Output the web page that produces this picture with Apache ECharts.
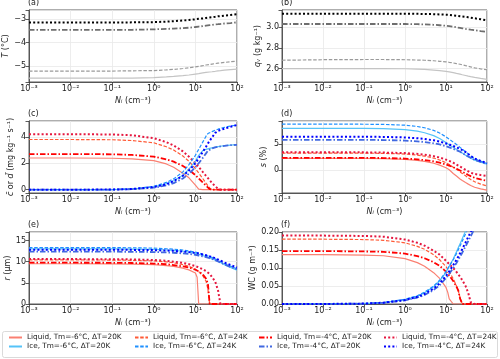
<!DOCTYPE html>
<html>
<head>
<meta charset="utf-8">
<script src="https://cdn.jsdelivr.net/npm/echarts@6/dist/echarts.min.js"></script>
<style>
  html, body { margin: 0; padding: 0; background: #fff; }
  #chart { width: 500px; height: 359px; }
</style>
</head>
<body>
<div id="chart"></div>
<script>
// Ni (cm^-3) sample points shared by every curve
const N = [0.001, 0.01, 0.1, 0.3, 1, 2, 3, 5, 7, 10, 11, 12, 15, 18, 20, 22, 25, 30, 35, 40, 50, 70, 100];

// (a) environment temperature T (°C)
const tEnv_6_20 = [-5.52,-5.52,-5.52,-5.52,-5.5,-5.47,-5.45,-5.42,-5.39,-5.35,-5.34,-5.33,-5.3,-5.28,-5.27,-5.26,-5.25,-5.23,-5.21,-5.2,-5.18,-5.16,-5.14];
const tEnv_6_24 = [-5.22,-5.22,-5.22,-5.21,-5.2,-5.17,-5.15,-5.11,-5.08,-5.04,-5.03,-5.02,-4.99,-4.96,-4.95,-4.94,-4.92,-4.9,-4.88,-4.87,-4.85,-4.82,-4.79];
const tEnv_4_20 = [-3.45,-3.45,-3.45,-3.45,-3.43,-3.41,-3.4,-3.38,-3.36,-3.33,-3.32,-3.31,-3.29,-3.27,-3.26,-3.25,-3.24,-3.22,-3.21,-3.2,-3.18,-3.16,-3.13];
const tEnv_4_24 = [-3.14,-3.14,-3.14,-3.13,-3.12,-3.1,-3.08,-3.05,-3.03,-3.0,-2.99,-2.98,-2.96,-2.94,-2.93,-2.92,-2.91,-2.89,-2.87,-2.86,-2.84,-2.81,-2.78];

// (b) water vapour qv (g kg-1)
const qEnv_6_20 = [2.6,2.6,2.6,2.6,2.598,2.595,2.592,2.585,2.58,2.572,2.57,2.567,2.56,2.553,2.55,2.546,2.54,2.533,2.527,2.522,2.515,2.505,2.495];
const qEnv_6_24 = [2.68,2.685,2.687,2.687,2.685,2.682,2.68,2.675,2.67,2.665,2.663,2.66,2.654,2.648,2.645,2.641,2.636,2.628,2.622,2.616,2.607,2.597,2.588];
const qEnv_4_20 = [3.03,3.03,3.03,3.03,3.03,3.028,3.026,3.022,3.018,3.013,3.011,3.009,3.003,2.998,2.995,2.992,2.988,2.983,2.979,2.975,2.969,2.962,2.955];
const qEnv_4_24 = [3.13,3.13,3.13,3.13,3.13,3.128,3.127,3.125,3.122,3.12,3.119,3.118,3.113,3.11,3.107,3.105,3.102,3.098,3.094,3.091,3.085,3.076,3.065];

// (c) condensation / deposition rate (mg kg-1 s-1)
const cLiq_6_20 = [2.4,2.4,2.38,2.33,2.2,1.95,1.7,1.25,0.9,0.35,0.2,0.05,0,0,0,0,0,0,0,0,0,0,0];
const cLiq_6_24 = [3.8,3.8,3.78,3.72,3.55,3.25,3.0,2.55,2.15,1.6,1.42,1.26,0.85,0.5,0.3,0.12,0,0,0,0,0,0,0];
const cLiq_4_20 = [2.7,2.7,2.68,2.63,2.5,2.3,2.12,1.8,1.5,1.1,0.97,0.85,0.55,0.3,0.17,0.05,0,0,0,0,0,0,0];
const cLiq_4_24 = [4.2,4.2,4.18,4.12,3.9,3.6,3.35,2.9,2.5,2.0,1.85,1.72,1.35,1.05,0.88,0.72,0.52,0.25,0.08,0,0,0,0];
const cIce_6_20 = [0,0,0.01,0.05,0.22,0.45,0.68,1.1,1.55,2.15,2.4,2.6,2.95,3.05,3.1,3.13,3.17,3.22,3.26,3.29,3.33,3.38,3.42];
const cIce_6_24 = [0,0,0.01,0.06,0.25,0.55,0.82,1.35,1.9,2.6,2.85,3.05,3.6,4.05,4.25,4.32,4.4,4.5,4.58,4.64,4.72,4.82,4.9];
const cIce_4_20 = [0,0,0.01,0.04,0.15,0.32,0.5,0.85,1.2,1.7,1.85,2.0,2.4,2.75,2.95,3.05,3.12,3.2,3.25,3.28,3.32,3.37,3.4];
const cIce_4_24 = [0,0,0.01,0.05,0.2,0.42,0.65,1.05,1.45,2.0,2.2,2.38,2.85,3.25,3.5,3.7,3.95,4.3,4.45,4.52,4.62,4.76,4.9];

// (d) supersaturation s (%)
const sLiq_6_20 = [2.3,2.3,2.29,2.25,2.1,1.9,1.7,1.35,1.0,0.5,0.3,0.1,-0.6,-1.1,-1.4,-1.65,-1.95,-2.35,-2.65,-2.9,-3.25,-3.55,-3.8];
const sLiq_6_24 = [3.3,3.3,3.29,3.25,3.12,2.92,2.72,2.35,1.98,1.45,1.28,1.1,0.6,0.2,-0.05,-0.3,-0.6,-1.05,-1.45,-1.75,-2.2,-2.65,-3.0];
const sLiq_4_20 = [2.4,2.4,2.39,2.35,2.25,2.1,1.95,1.7,1.45,1.1,1.0,0.9,0.6,0.3,0.12,-0.05,-0.28,-0.6,-0.9,-1.12,-1.45,-1.75,-2.0];
const sLiq_4_24 = [3.45,3.45,3.44,3.4,3.3,3.15,3.0,2.72,2.45,2.05,1.93,1.8,1.45,1.1,0.9,0.7,0.45,0.1,-0.2,-0.45,-0.7,-0.9,-1.1];
const sIce_6_20 = [8.05,8.05,8.03,7.98,7.8,7.5,7.2,6.65,6.1,5.35,5.1,4.85,4.4,4.0,3.8,3.6,3.3,2.9,2.55,2.3,1.95,1.55,1.15];
const sIce_6_24 = [8.85,8.85,8.83,8.8,8.65,8.4,8.15,7.65,7.15,6.4,6.15,5.95,5.4,4.95,4.65,4.4,4.05,3.55,3.1,2.75,2.25,1.75,1.3];
const sIce_4_20 = [5.85,5.85,5.84,5.8,5.7,5.55,5.42,5.18,4.95,4.6,4.5,4.4,4.1,3.85,3.7,3.55,3.3,2.95,2.65,2.4,2.0,1.6,1.2];
const sIce_4_24 = [6.45,6.45,6.44,6.4,6.3,6.15,6.0,5.75,5.5,5.15,5.05,4.95,4.65,4.4,4.25,4.1,3.85,3.5,3.1,2.75,2.25,1.8,1.4];

// (e) radius r (um)
const rLiq_6_20 = [9.5,9.5,9.48,9.42,9.28,9.08,8.88,8.45,8.05,7.3,6.3,0,0,0,0,0,0,0,0,0,0,0,0];
const rLiq_6_24 = [10.4,10.4,10.38,10.32,10.17,9.95,9.72,9.3,8.9,8.2,7.95,7.65,6.7,5.4,3.5,0,0,0,0,0,0,0,0];
const rLiq_4_20 = [9.75,9.75,9.73,9.68,9.55,9.38,9.2,8.9,8.6,8.1,7.9,7.7,7.0,6.0,4.8,0,0,0,0,0,0,0,0];
const rLiq_4_24 = [10.6,10.6,10.58,10.53,10.4,10.2,10.0,9.7,9.4,8.95,8.8,8.65,8.2,7.75,7.45,7.1,6.4,5.3,3.2,0,0,0,0];
const rIce_6_20 = [13.0,13.0,13.0,12.98,12.9,12.75,12.65,12.45,12.25,11.95,11.85,11.75,11.45,11.2,11.05,10.9,10.7,10.35,10.05,9.8,9.3,8.65,8.0];
const rIce_6_24 = [13.3,13.3,13.3,13.28,13.2,13.05,12.95,12.75,12.55,12.25,12.15,12.05,11.75,11.5,11.35,11.2,11.0,10.65,10.35,10.1,9.6,8.95,8.3];
const rIce_4_20 = [12.35,12.35,12.35,12.33,12.27,12.17,12.1,11.95,11.8,11.6,11.53,11.45,11.25,11.05,10.93,10.8,10.62,10.35,10.05,9.8,9.35,8.75,8.2];
const rIce_4_24 = [12.8,12.8,12.8,12.78,12.72,12.62,12.55,12.4,12.25,12.05,11.98,11.9,11.7,11.5,11.38,11.25,11.08,10.8,10.5,10.25,9.8,9.2,8.6];

// (f) water content WC (g m-3)
const wLiq_6_20 = [0.137,0.137,0.136,0.134,0.126,0.115,0.105,0.087,0.071,0.046,0.033,0.014,0,0,0,0,0,0,0,0,0,0,0];
const wLiq_6_24 = [0.18,0.18,0.179,0.177,0.17,0.16,0.152,0.137,0.123,0.104,0.097,0.09,0.07,0.05,0.036,0.018,0,0,0,0,0,0,0];
const wLiq_4_20 = [0.147,0.147,0.146,0.145,0.14,0.133,0.127,0.116,0.106,0.09,0.085,0.079,0.064,0.048,0.037,0.015,0,0,0,0,0,0,0];
const wLiq_4_24 = [0.19,0.19,0.189,0.187,0.179,0.17,0.162,0.148,0.137,0.12,0.116,0.111,0.1,0.089,0.082,0.076,0.066,0.05,0.03,0.005,0,0,0];
const wIce_6_20 = [0,0.0001,0.0012,0.004,0.012,0.022,0.031,0.048,0.064,0.088,0.097,0.105,0.125,0.145,0.157,0.167,0.182,0.203,0.22,0.235,0.26,0.3,0.34];
const wIce_6_24 = [0,0.0001,0.0013,0.0042,0.013,0.023,0.033,0.05,0.066,0.09,0.098,0.105,0.123,0.14,0.151,0.161,0.175,0.195,0.212,0.226,0.25,0.29,0.33];
const wIce_4_20 = [0,0.0001,0.001,0.0033,0.01,0.018,0.025,0.039,0.052,0.072,0.078,0.084,0.1,0.114,0.123,0.131,0.143,0.16,0.175,0.188,0.21,0.245,0.28];
const wIce_4_24 = [0,0.0001,0.0011,0.0036,0.011,0.02,0.028,0.043,0.057,0.078,0.085,0.091,0.108,0.123,0.132,0.141,0.153,0.171,0.187,0.2,0.224,0.258,0.295];

const FONT = 'DejaVu Sans';
const INK = '#222';

const NAMES = {
  liq_6_20: 'Liquid, Tm=-6°C, ΔT=20K',
  liq_6_24: 'Liquid, Tm=-6°C, ΔT=24K',
  liq_4_20: 'Liquid, Tm=-4°C, ΔT=20K',
  liq_4_24: 'Liquid, Tm=-4°C, ΔT=24K',
  ice_6_20: 'Ice, Tm=-6°C, ΔT=20K',
  ice_6_24: 'Ice, Tm=-6°C, ΔT=24K',
  ice_4_20: 'Ice, Tm=-4°C, ΔT=20K',
  ice_4_24: 'Ice, Tm=-4°C, ΔT=24K'
};

const DASHED = [3.5, 1.7];
const DASHDOT = [5.5, 2, 1.5, 2];
const DOTTED = [2, 2.2];

const STYLE = {
  liq_6_20: { color: '#fa8072', width: 1.2, type: 'solid' },
  liq_6_24: { color: '#ff5a36', width: 1.2, type: DASHED },
  liq_4_20: { color: '#ff0000', width: 1.8, type: DASHDOT },
  liq_4_24: { color: '#e5173f', width: 2, type: DOTTED },
  ice_6_20: { color: '#55c3f8', width: 1.2, type: 'solid' },
  ice_6_24: { color: '#1e90ff', width: 1.2, type: DASHED },
  ice_4_20: { color: '#4169e1', width: 1.8, type: DASHDOT },
  ice_4_24: { color: '#0000ff', width: 2, type: DOTTED },
  env_6_20: { color: '#c4c4c4', width: 1.2, type: 'solid' },
  env_6_24: { color: '#9a9a9a', width: 1.2, type: DASHED },
  env_4_20: { color: '#6e6e6e', width: 1.8, type: DASHDOT },
  env_4_24: { color: '#000000', width: 2, type: DOTTED }
};

const GRIDS = [
  { left: 29, top: 10, width: 208, height: 72 },
  { left: 282, top: 10, width: 205, height: 72 },
  { left: 29, top: 121, width: 208, height: 72 },
  { left: 282, top: 121, width: 205, height: 72 },
  { left: 29, top: 232, width: 208, height: 72 },
  { left: 282, top: 232, width: 205, height: 72 }
];

const SUP = { '-': '⁻', '0': '⁰', '1': '¹', '2': '²', '3': '³' };
const pow10 = v => '10' + String(Math.round(Math.log10(v))).split('').map(c => SUP[c]).join('');

const txt = { fontFamily: FONT, fontSize: 8, color: INK };
const rich = { it: { fontFamily: FONT, fontSize: 8, color: INK, fontStyle: 'italic' } };
const frame = { color: '#333', width: 0.8 };

function xAxisFor(i) {
  return {
    type: 'log', logBase: 10, gridIndex: i, min: 0.001, max: 100, splitNumber: 5,
    name: '{it|N}{it|ᵢ} (cm⁻³)', nameLocation: 'middle', nameGap: 15,
    nameTextStyle: Object.assign({ rich }, txt),
    axisLine: { onZero: false, lineStyle: frame },
    axisTick: { inside: false, length: 3.5, lineStyle: frame },
    axisLabel: Object.assign({ margin: 3, formatter: pow10 }, txt),
    splitLine: { show: true, lineStyle: { color: '#e8e8e8', width: 0.8 } }
  };
}

function yAxisFor(i, o) {
  const step = o.step;
  const fmt = o.fmt;
  return {
    type: 'value', gridIndex: i, min: o.min, max: o.max, splitNumber: 3,
    interval: o.interval,
    name: o.name, nameLocation: 'middle', nameRotate: 90, nameGap: o.gap,
    nameTextStyle: Object.assign({ rich }, txt),
    axisLine: { show: true, onZero: false, lineStyle: frame },
    axisTick: { show: true, inside: false, length: 3.5, lineStyle: frame },
    axisLabel: Object.assign({
      margin: 3, showMinLabel: true, showMaxLabel: true,
      formatter: v => Math.abs(v / step - Math.round(v / step)) < 1e-6 ? fmt(v) : ''
    }, txt),
    splitLine: { show: true, lineStyle: { color: '#e8e8e8', width: 0.8 } }
  };
}

const minus = s => s.replace('-', '−');

const yAxes = [
  yAxisFor(0, { min: -5.69, max: -2.6, step: 1, fmt: v => minus(v.toFixed(0)), name: '{it|T} (°C)', gap: 16 }),
  yAxisFor(1, { min: 2.47, max: 3.165, step: 0.2, fmt: v => v.toFixed(1), name: '{it|q}{it|ᵥ} (g kg⁻¹)', gap: 20 }),
  yAxisFor(2, { min: -0.25, max: 5.2, step: 2, fmt: v => v.toFixed(0), name: '{it|c̄} or {it|d̄} (mg kg⁻¹ s⁻¹)', gap: 14 }),
  yAxisFor(3, { min: -4.35, max: 9.45, step: 5, fmt: v => v.toFixed(0), name: '{it|s} (%)', gap: 14 }),
  yAxisFor(4, { min: 0, max: 17, interval: 5, step: 5, fmt: v => v.toFixed(0), name: '{it|r} (μm)', gap: 16 }),
  yAxisFor(5, { min: 0, max: 0.2, interval: 0.05, step: 0.05, fmt: v => v.toFixed(2), name: 'WC (g m⁻³)', gap: 22 })
];

function line(grid, key, name, values) {
  const st = STYLE[key];
  return {
    type: 'line', name, xAxisIndex: grid, yAxisIndex: grid,
    data: N.map((n, k) => [n, values[k]]),
    symbol: 'none', showSymbol: false, clip: true, animation: false,
    color: st.color,
    lineStyle: { color: st.color, width: st.width, type: st.type }
  };
}

const series = [
  line(0, 'env_6_20', 'T env -6/20', tEnv_6_20),
  line(0, 'env_6_24', 'T env -6/24', tEnv_6_24),
  line(0, 'env_4_20', 'T env -4/20', tEnv_4_20),
  line(0, 'env_4_24', 'T env -4/24', tEnv_4_24),
  line(1, 'env_6_20', 'qv env -6/20', qEnv_6_20),
  line(1, 'env_6_24', 'qv env -6/24', qEnv_6_24),
  line(1, 'env_4_20', 'qv env -4/20', qEnv_4_20),
  line(1, 'env_4_24', 'qv env -4/24', qEnv_4_24)
];

const panels = [
  [2, { liq_6_20: cLiq_6_20, liq_6_24: cLiq_6_24, liq_4_20: cLiq_4_20, liq_4_24: cLiq_4_24,
        ice_6_20: cIce_6_20, ice_6_24: cIce_6_24, ice_4_20: cIce_4_20, ice_4_24: cIce_4_24 }],
  [3, { liq_6_20: sLiq_6_20, liq_6_24: sLiq_6_24, liq_4_20: sLiq_4_20, liq_4_24: sLiq_4_24,
        ice_6_20: sIce_6_20, ice_6_24: sIce_6_24, ice_4_20: sIce_4_20, ice_4_24: sIce_4_24 }],
  [4, { liq_6_20: rLiq_6_20, liq_6_24: rLiq_6_24, liq_4_20: rLiq_4_20, liq_4_24: rLiq_4_24,
        ice_6_20: rIce_6_20, ice_6_24: rIce_6_24, ice_4_20: rIce_4_20, ice_4_24: rIce_4_24 }],
  [5, { liq_6_20: wLiq_6_20, liq_6_24: wLiq_6_24, liq_4_20: wLiq_4_20, liq_4_24: wLiq_4_24,
        ice_6_20: wIce_6_20, ice_6_24: wIce_6_24, ice_4_20: wIce_4_20, ice_4_24: wIce_4_24 }]
];
panels.forEach(([g, sets]) => {
  Object.keys(NAMES).forEach(key => series.push(line(g, key, NAMES[key], sets[key])));
});

const legendCols = [
  [NAMES.liq_6_20, NAMES.ice_6_20],
  [NAMES.liq_6_24, NAMES.ice_6_24],
  [NAMES.liq_4_20, NAMES.ice_4_20],
  [NAMES.liq_4_24, NAMES.ice_4_24]
];
const legendLeft = [8, 134, 258, 383];

const chart = echarts.init(document.getElementById('chart'), null, { renderer: 'canvas' });
chart.setOption({
  animation: false,
  backgroundColor: '#fff',
  textStyle: { fontFamily: FONT },
  title: ['(a)', '(b)', '(c)', '(d)', '(e)', '(f)'].map((t, i) => ({
    text: t, left: GRIDS[i].left - 1, top: GRIDS[i].top - 11, padding: 0,
    textStyle: { fontFamily: FONT, fontSize: 8, fontWeight: 'normal', color: INK }
  })),
  grid: GRIDS.map(g => Object.assign({ show: true, borderColor: '#333', borderWidth: 0.8, containLabel: false }, g)),
  xAxis: GRIDS.map((g, i) => xAxisFor(i)),
  yAxis: yAxes,
  legend: legendCols.map((d, k) => ({
    data: d, orient: 'vertical', left: legendLeft[k], top: 334, padding: 0,
    width: 125, height: 22,
    itemWidth: 13, itemHeight: 8, itemGap: 2, selectedMode: false,
    itemStyle: { opacity: 0 },
    textStyle: { fontFamily: FONT, fontSize: 7.3, color: INK }
  })),
  graphic: [{
    type: 'rect', silent: true,
    shape: { x: 2.5, y: 331.5, width: 495, height: 26, r: 2 },
    style: { fill: 'none', stroke: '#d0d0d0', lineWidth: 0.8 }
  }],
  series
});
</script>
</body>
</html>
